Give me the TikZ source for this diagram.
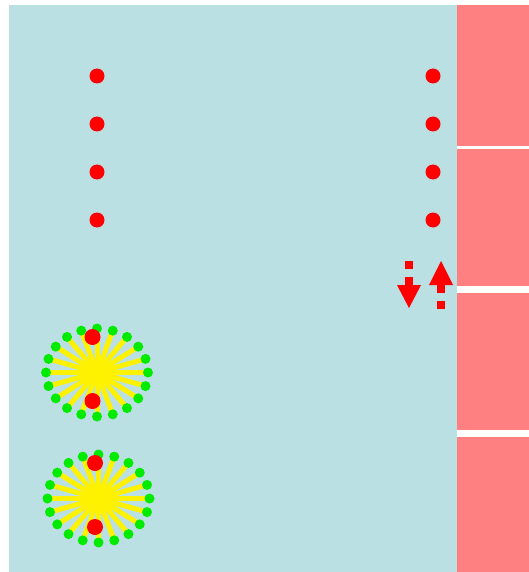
\documentclass[tikz,border=0pt]{standalone}
\usetikzlibrary{calc}
\definecolor{bgblue}{RGB}{186,224,227}
\definecolor{pinkc}{RGB}{255,128,128}
\definecolor{limeg}{RGB}{0,235,0}
\begin{document}
\begin{tikzpicture}[x=1pt,y=-1pt,
  reddot/.style={circle,fill=red,inner sep=0pt,minimum size=15pt},
  bigred/.style={circle,fill=red,inner sep=0pt,minimum size=16pt},
  greendot/.style={circle,fill=limeg,inner sep=0pt,minimum size=10pt},
  ray/.style={draw=yellow,line width=5pt},
  panel/.style={fill=pinkc}]
\useasboundingbox (0,0) rectangle (529,572);
\fill[bgblue] (9,5) rectangle (457,572);
\fill[white] (457,5) rectangle (529,572);
% right panels
\fill[panel] (457,5) rectangle (529,146);
\fill[panel] (457,149) rectangle (529,286);
\fill[panel] (457,293) rectangle (529,430);
\fill[panel] (457,437) rectangle (529,572);
% dot columns
\foreach \i/\y in {1/76,2/124,3/172,4/220}{
  \node[reddot] (l\i) at (97,\y) {};
  \node[reddot] (r\i) at (433,\y) {};
}
% arrows
\fill[red] (405,261) rectangle (413,269);
\fill[red] (405,277) rectangle (413,286);
\fill[red] (397,285) -- (421,285) -- (409,308) -- cycle;
\fill[red] (429,285) -- (453,285) -- (441,261) -- cycle;
\fill[red] (437,284) rectangle (445,293);
\fill[red] (437,301) rectangle (445,309);
% sunbursts
\foreach \n/\cx/\cy in {a/97/372.5,b/98.5/498.5}{
  \coordinate (c\n) at (\cx,\cy);
  \foreach \k in {0,...,19}{
    \draw[ray] (c\n) -- ++({51*cos(\k*18)},{44*sin(\k*18)});
  }
  \foreach \k in {0,...,19}{
    \node[greendot] (g\n\k) at ($(c\n)+({51*cos(\k*18)},{44*sin(\k*18)})$) {};
  }
}
\node[bigred] (sa1) at (92.5,337) {};
\node[bigred] (sa2) at (92.5,401) {};
\node[bigred] (sb1) at (95,463) {};
\node[bigred] (sb2) at (95,527) {};
\end{tikzpicture}
\end{document}
